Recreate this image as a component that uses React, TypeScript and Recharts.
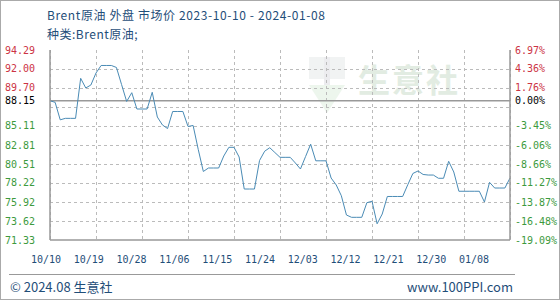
import React from 'react';
import { LineChart, Line, XAxis, YAxis, ReferenceLine, CartesianGrid } from 'recharts';

// Daily Brent price, 2023-10-10 (index 0) to 2024-01-08 (index 90)
const prices: number[] = [
  88.15, 87.97, 85.85, 86.03, 86.03, 86.03, 90.87, 89.70, 90.06, 91.51,
  92.42, 92.42, 92.42, 92.18, 90.12, 88.07, 89.13, 87.16, 87.16, 87.16,
  89.18, 86.19, 85.23, 84.80, 86.86, 86.86, 86.86, 85.05, 85.17, 82.28,
  79.61, 80.03, 80.03, 80.03, 81.48, 82.53, 82.53, 81.36, 77.49, 77.49,
  77.49, 80.94, 82.06, 82.48, 81.90, 81.32, 81.32, 81.32, 80.64, 79.91,
  81.41, 82.91, 80.90, 80.90, 80.90, 78.82, 77.98, 76.68, 74.35, 74.07,
  74.07, 74.07, 75.84, 76.01, 73.29, 74.47, 76.59, 76.59, 76.59, 76.59,
  78.01, 79.37, 79.67, 79.25, 79.18, 79.18, 78.79, 78.79, 80.84, 79.55,
  77.22, 77.22, 77.22, 77.22, 77.22, 75.92, 78.30, 77.61, 77.61, 77.61,
  78.82,
];

const xTickLabels: string[] = ['10/10', '10/19', '10/28', '11/06', '11/15', '11/24', '12/03', '12/12', '12/21', '12/30', '01/08'];
const xTickPositions: number[] = [0, 9, 18, 27, 36, 45, 54, 63, 72, 81, 90];

const basePrice = 88.15;
const yMin = 71.33;
const yMax = 94.29;
const gridValues: number[] = [91.994, 89.698, 87.402, 85.106, 82.81, 80.514, 78.218, 75.922, 73.626];
const leftTickValues: number[] = [94.29, 92.0, 89.7, 88.15, 85.11, 82.81, 80.51, 78.22, 75.92, 73.62, 71.33];
const leftTickLabels: string[] = ['94.29', '92.00', '89.70', '88.15', '85.11', '82.81', '80.51', '78.22', '75.92', '73.62', '71.33'];
const rightTickLabels: string[] = ['6.97%', '4.36%', '1.76%', '0.00%', '-3.45%', '-6.06%', '-8.66%', '-11.27%', '-13.87%', '-16.48%', '-19.09%'];

const titleText = 'Brent原油 外盘 市场价 2023-10-10 - 2024-01-08';
const subtitleText = '种类:Brent原油;';
const footerLeft = '© 2024.08 生意社';
const footerRight = 'www.100PPI.com';

const data = prices.map((p, i) => ({ d: i, price: p }));

const RED = '#cc3344';
const GREEN = '#3d9a3d';
const TEXT_BLUE = '#1f4e79';
const LINE = '#4a8bb5';
const FRAME = '#999999';
const GRID = '#bbbbbb';
const AXIS_FONT = "'DejaVu Sans Mono', monospace";

const colorFor = (v: number) => (v > basePrice ? RED : v < basePrice ? GREEN : '#000');

const LeftTick = (props: any) => {
  const { x, y, payload, index } = props;
  return (
    <text x={x} y={y} dy="0.35em" textAnchor="end" fontSize={10} fontFamily={AXIS_FONT} fill={colorFor(payload.value)}>
      {leftTickLabels[index]}
    </text>
  );
};

const RightTick = (props: any) => {
  const { x, y, payload, index } = props;
  return (
    <text x={x} y={y} dy="0.35em" textAnchor="start" fontSize={10} fontFamily={AXIS_FONT} fill={colorFor(payload.value)}>
      {rightTickLabels[index]}
    </text>
  );
};

const BottomTick = (props: any) => {
  const { x, y, index } = props;
  const lx = x - 4 - index * 3.2;
  return (
    <text x={lx} y={y + 17} dy="0.35em" textAnchor="middle" fontSize={10} fontFamily={AXIS_FONT} fill={TEXT_BLUE}>
      {xTickLabels[index]}
    </text>
  );
};

export default function App() {
  return (
    <div style={{ position: 'absolute', left: 0, top: 0, width: 560, height: 300, background: '#fff', overflow: 'hidden' }}>
      <div style={{ position: 'absolute', left: 47, top: 6, fontSize: 12, lineHeight: '18px', letterSpacing: 0.6, fontFamily: "'Noto Sans CJK SC', sans-serif", color: TEXT_BLUE, whiteSpace: 'nowrap' }}>
        {titleText}
      </div>
      <div style={{ position: 'absolute', left: 47, top: 25, fontSize: 12, lineHeight: '18px', letterSpacing: 0.5, fontFamily: "'Noto Sans CJK SC', sans-serif", color: TEXT_BLUE, whiteSpace: 'nowrap' }}>
        {subtitleText}
      </div>
      {/* watermark */}
      <div style={{ position: 'absolute', left: 305, top: 55, width: 44, height: 60, opacity: 0.13 }}>
        <svg width={44} height={60}>
          <rect x={4} y={2} width={36} height={22} fill="#9aa" />
          <rect x={19} y={2} width={6} height={30} fill="#778" />
          <polygon points="4,30 40,30 22,58" fill="#7bbf7b" />
        </svg>
      </div>
      <div style={{ position: 'absolute', left: 358, top: 58, fontSize: 32, lineHeight: '40px', fontFamily: "'Noto Sans CJK SC', sans-serif", fontWeight: 700, color: '#e2ece2', whiteSpace: 'nowrap', letterSpacing: 2 }}>
        生意社
      </div>
      <div style={{ position: 'absolute', left: 0, top: 0 }}>
        <LineChart width={560} height={300} data={data} margin={{ top: 50, right: 0, bottom: 30, left: 0 }}>
          <CartesianGrid horizontal={false} vertical={true} stroke={GRID} strokeWidth={1} strokeDasharray="3 3" shapeRendering="crispEdges" />
          <XAxis
            dataKey="d"
            type="number"
            domain={[0, 90]}
            ticks={xTickPositions}
            interval={0}
            height={30}
            axisLine={{ stroke: FRAME, strokeWidth: 1.5 }}
            tickLine={false}
            tickSize={0}
            tick={<BottomTick />}
          />
          <XAxis
            xAxisId="top"
            dataKey="d"
            type="number"
            orientation="top"
            domain={[0, 90]}
            height={0}
            ticks={[]}
            tick={false}
            tickLine={false}
            axisLine={{ stroke: FRAME, strokeWidth: 1.5 }}
          />
          <YAxis
            yAxisId="left"
            orientation="left"
            width={50}
            domain={[yMin, yMax]}
            ticks={leftTickValues}
            interval={0}
            axisLine={{ stroke: FRAME, strokeWidth: 1.5 }}
            tickLine={false}
            tickSize={0}
            tickMargin={15}
            tick={<LeftTick />}
          />
          <YAxis
            yAxisId="right"
            orientation="right"
            width={50}
            domain={[yMin, yMax]}
            ticks={leftTickValues}
            interval={0}
            axisLine={{ stroke: FRAME, strokeWidth: 1.5 }}
            tickLine={false}
            tickSize={0}
            tickMargin={5}
            tick={<RightTick />}
          />
          {gridValues.map((v) => (
            <ReferenceLine key={'h' + v} yAxisId="left" y={v} stroke={GRID} strokeWidth={1} strokeDasharray="3 3" shapeRendering="crispEdges" />
          ))}
          <ReferenceLine yAxisId="left" y={basePrice} stroke={FRAME} strokeWidth={1.5} />
          <Line xAxisId="top" yAxisId="right" type="linear" dataKey="price" stroke="none" strokeOpacity={0} dot={false} activeDot={false} legendType="none" isAnimationActive={false} />
          <Line
            yAxisId="left"
            type="linear"
            dataKey="price"
            stroke={LINE}
            strokeWidth={1}
            dot={false}
            isAnimationActive={false}
          />
        </LineChart>
      </div>
      <div style={{ position: 'absolute', left: 9, top: 274, width: 506, height: 0, borderTop: '1px solid #999' }} />
      <div style={{ position: 'absolute', left: 10, top: 278, fontSize: 13, lineHeight: '18px', fontFamily: "'Noto Sans CJK SC', sans-serif", color: TEXT_BLUE, whiteSpace: 'nowrap' }}>
        {footerLeft}
      </div>
      <div style={{ position: 'absolute', right: 47, top: 278, fontSize: 13, lineHeight: '18px', fontFamily: "'Noto Sans CJK SC', sans-serif", color: TEXT_BLUE, whiteSpace: 'nowrap' }}>
        {footerRight}
      </div>
      <div style={{ position: 'absolute', left: 0, top: 0, width: 560, height: 300, boxSizing: 'border-box', border: '1px solid #aaa', pointerEvents: 'none' }} />
    </div>
  );
}
